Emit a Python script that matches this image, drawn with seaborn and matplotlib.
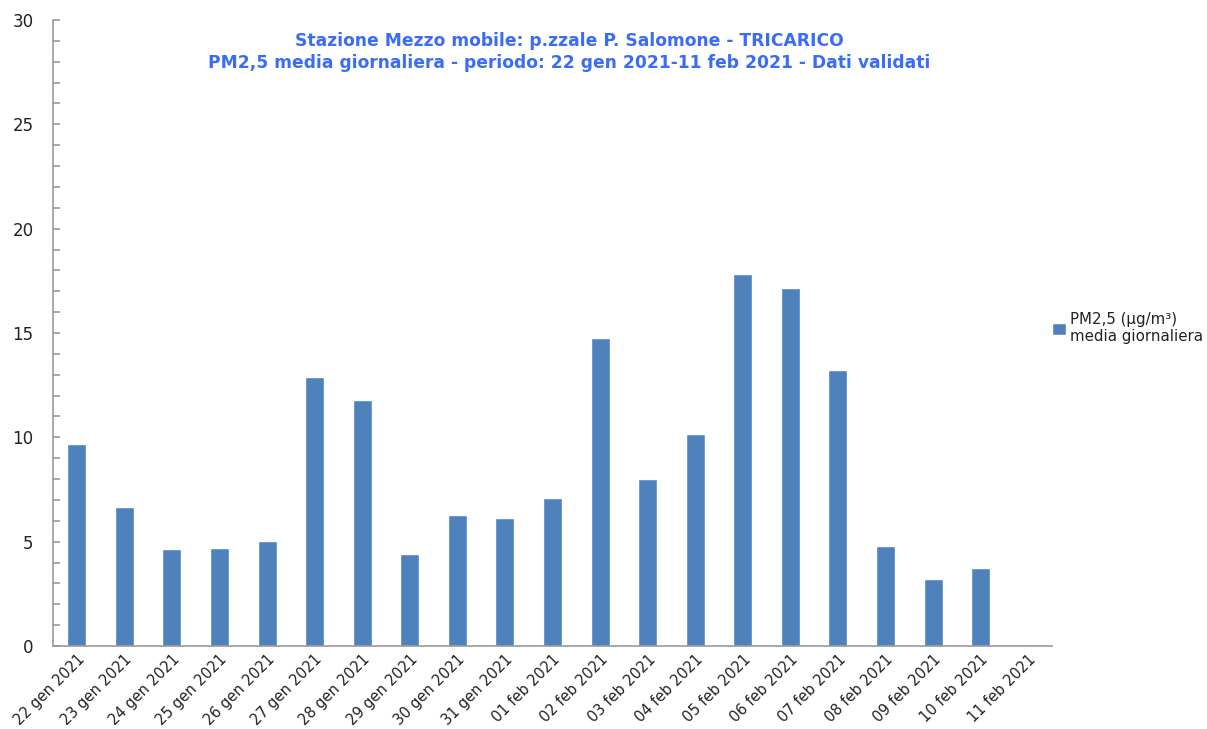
import pandas as pd
import numpy as np
import seaborn as sns
import matplotlib.pyplot as plt

dates = ['22 gen 2021', '23 gen 2021', '24 gen 2021', '25 gen 2021', '26 gen 2021',
         '27 gen 2021', '28 gen 2021', '29 gen 2021', '30 gen 2021', '31 gen 2021',
         '01 feb 2021', '02 feb 2021', '03 feb 2021', '04 feb 2021', '05 feb 2021',
         '06 feb 2021', '07 feb 2021', '08 feb 2021', '09 feb 2021', '10 feb 2021',
         '11 feb 2021']
pm25 = [9.68, 6.66, 4.65, 4.70, 5.03, 12.89, 11.79, 4.41, 6.28, 6.13,
        7.09, 14.76, 8.00, 10.16, 17.82, 17.15, 13.22, 4.79, 3.21, 3.74, np.nan]

df = pd.DataFrame({'data': dates, 'pm25': pm25})

sns.set_style('white')
plt.rcParams['font.family'] = ['DejaVu Sans']

fig = plt.figure(figsize=(12.07, 7.29), dpi=100)
ax = fig.add_axes([0.0439, 0.1139, 0.8277, 0.8587])

sns.barplot(x='data', y='pm25', data=df, order=dates, color='#4F81BD',
            saturation=1, width=0.4, ax=ax, label='PM2,5 (µg/m³)\nmedia giornaliera')

ax.set_ylim(0, 30)
ax.set_xlim(-0.5, len(dates) - 0.5)
ax.set_yticks(range(0, 31, 5))
ax.set_yticks(range(0, 31), minor=True)
ax.tick_params(axis='y', which='both', left=True, direction='in', length=5,
               width=1.2, color='#999999', labelsize=12, pad=14, labelcolor='#222222')
ax.tick_params(axis='x', length=0, labelsize=10.5, pad=4, labelcolor='#222222')
ax.set_xticks(range(len(dates)))
ax.set_xticklabels(dates, rotation=45, ha='right', rotation_mode='anchor')
ax.set_xlabel('')
ax.set_ylabel('')
for s in ['top', 'right']:
    ax.spines[s].set_visible(False)
for s in ['left', 'bottom']:
    ax.spines[s].set_color('#999999')
    ax.spines[s].set_linewidth(1.2)

fig.text(569 / 1207, 1 - 52 / 729,
         'Stazione Mezzo mobile: p.zzale P. Salomone - TRICARICO\n'
         'PM2,5 media giornaliera - periodo: 22 gen 2021-11 feb 2021 - Dati validati',
         ha='center', va='center', color='#3B6CF6', fontsize=12.3,
         fontweight='bold', linespacing=1.25)

ax.legend(loc='center left', bbox_to_anchor=(0.997, 0.508), frameon=False,
          fontsize=10.8, handlelength=0.9, handleheight=0.9, handletextpad=0.3,
          borderaxespad=0.2, borderpad=0)
for t in ax.get_legend().get_texts():
    t.set_color('#222222')

fig.savefig('out.png', dpi=100)
